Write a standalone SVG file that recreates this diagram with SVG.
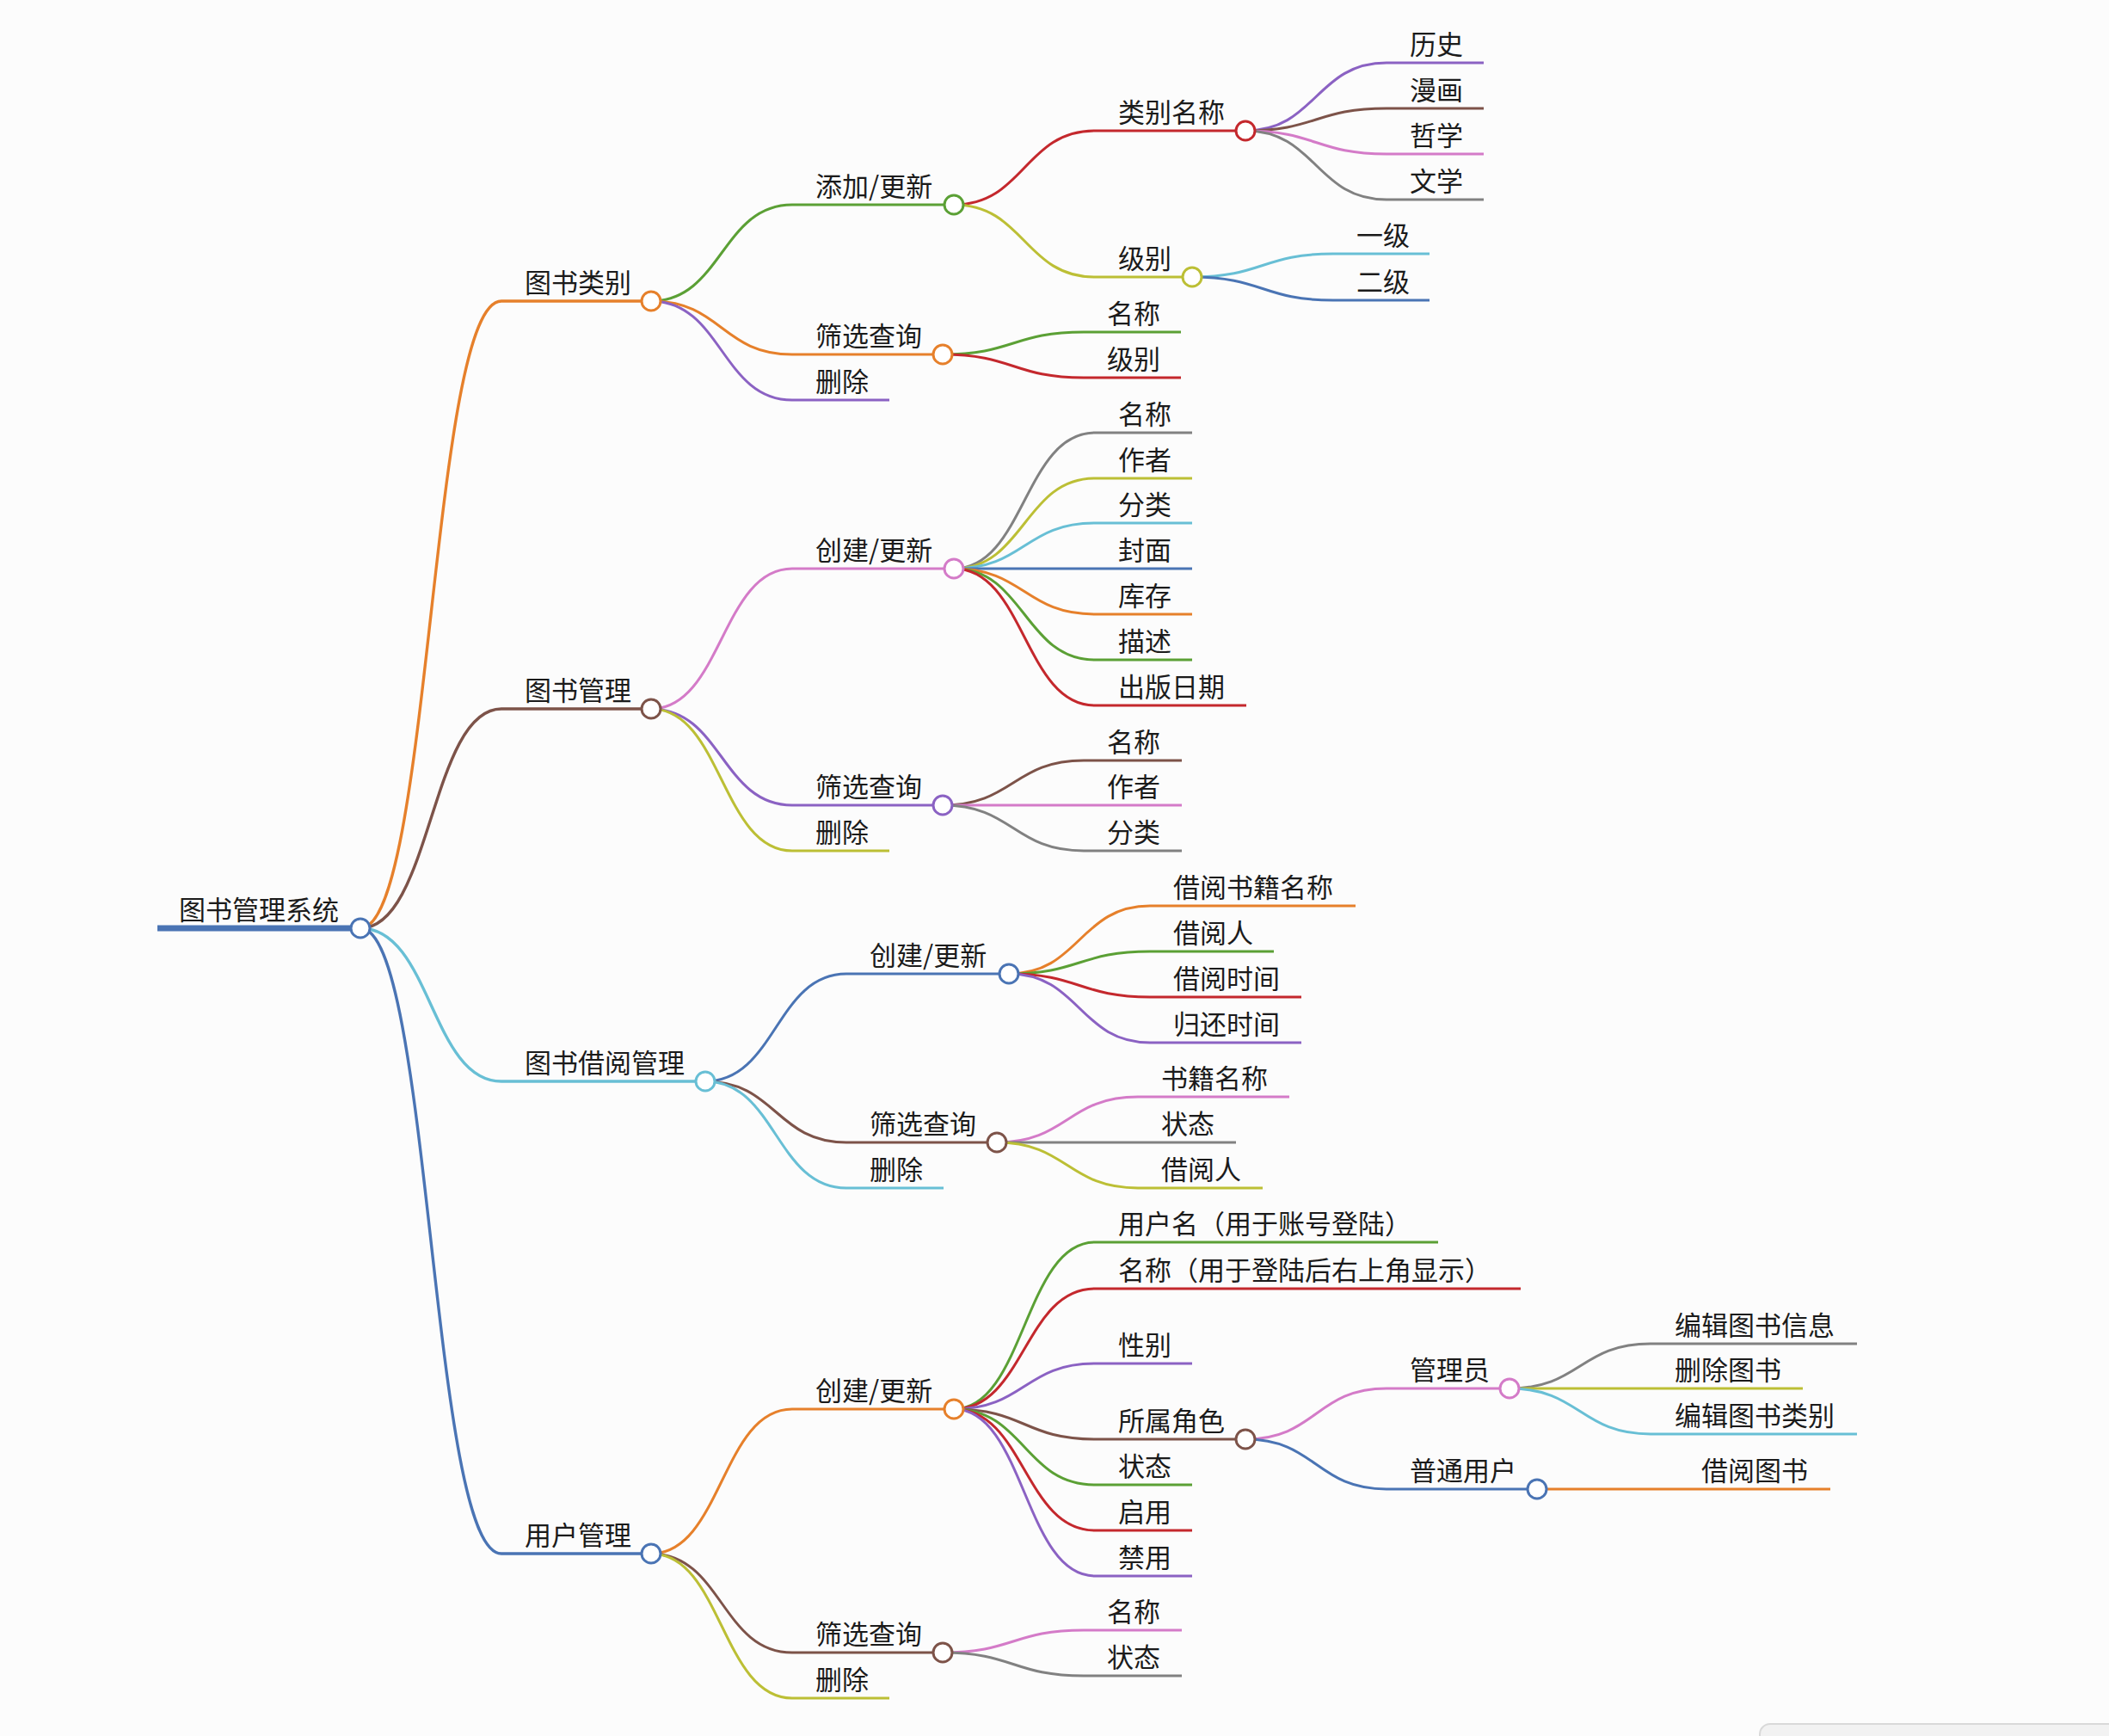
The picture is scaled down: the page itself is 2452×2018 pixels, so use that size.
<svg xmlns="http://www.w3.org/2000/svg" width="2452" height="2018" viewBox="0 0 2452 2018">
<style>
text{font-family:"Noto Sans CJK SC","Noto Sans",sans-serif;font-size:31px;fill:#1b1b1b}
path{fill:none;stroke-linecap:butt}
.ln{stroke-width:3}
.l1{stroke-width:3.4}
.rt{stroke-width:7}
circle{fill:#ffffff;stroke-width:3}
.blue{stroke:#4a74b4}
.orange{stroke:#e6802b}
.green{stroke:#5ba035}
.red{stroke:#c4282d}
.purple{stroke:#8b62c3}
.brown{stroke:#7d5349}
.pink{stroke:#d47bc8}
.gray{stroke:#818181}
.olive{stroke:#bcbf35}
.cyan{stroke:#68bfd5}
</style>
<rect x="0" y="0" width="2452" height="2018" fill="#fcfcfc"/>
<rect x="2046" y="2004" width="430" height="60" rx="12" fill="#f2f2f2" stroke="#d9d9d9" stroke-width="2"/>
<g id="connectors">
<path class="l1 orange" d="M419 1079C501 1079 501 350 583 350"/>
<path class="l1 brown" d="M419 1079C501 1079 501 824 583 824"/>
<path class="l1 cyan" d="M419 1079C501 1079 501 1257 583 1257"/>
<path class="l1 blue" d="M419 1079C501 1079 501 1806 583 1806"/>
<path class="ln green" d="M757 350C839 350 839 238 921 238"/>
<path class="ln orange" d="M757 350C839 350 839 412 921 412"/>
<path class="ln purple" d="M757 350C839 350 839 465 921 465"/>
<path class="ln pink" d="M757 824C839 824 839 661 921 661"/>
<path class="ln purple" d="M757 824C839 824 839 936 921 936"/>
<path class="ln olive" d="M757 824C839 824 839 989 921 989"/>
<path class="ln orange" d="M757 1806C839 1806 839 1638 921 1638"/>
<path class="ln brown" d="M757 1806C839 1806 839 1921 921 1921"/>
<path class="ln olive" d="M757 1806C839 1806 839 1974 921 1974"/>
<path class="ln blue" d="M820 1257C902 1257 902 1132 984 1132"/>
<path class="ln brown" d="M820 1257C902 1257 902 1328 984 1328"/>
<path class="ln cyan" d="M820 1257C902 1257 902 1381 984 1381"/>
<path class="ln red" d="M1109 238C1191 238 1191 152 1273 152"/>
<path class="ln olive" d="M1109 238C1191 238 1191 322 1273 322"/>
<path class="ln purple" d="M1448 152C1530 152 1530 73 1612 73"/>
<path class="ln brown" d="M1448 152C1530 152 1530 126 1612 126"/>
<path class="ln pink" d="M1448 152C1530 152 1530 179 1612 179"/>
<path class="ln gray" d="M1448 152C1530 152 1530 232 1612 232"/>
<path class="ln cyan" d="M1386 322C1468 322 1468 295 1550 295"/>
<path class="ln blue" d="M1386 322C1468 322 1468 349 1550 349"/>
<path class="ln green" d="M1096 412C1178 412 1178 386 1260 386"/>
<path class="ln red" d="M1096 412C1178 412 1178 439 1260 439"/>
<path class="ln gray" d="M1109 661C1191 661 1191 503 1273 503"/>
<path class="ln olive" d="M1109 661C1191 661 1191 556 1273 556"/>
<path class="ln cyan" d="M1109 661C1191 661 1191 608 1273 608"/>
<path class="ln blue" d="M1109 661C1191 661 1191 661 1273 661"/>
<path class="ln orange" d="M1109 661C1191 661 1191 714 1273 714"/>
<path class="ln green" d="M1109 661C1191 661 1191 767 1273 767"/>
<path class="ln red" d="M1109 661C1191 661 1191 820 1273 820"/>
<path class="ln brown" d="M1096 936C1178 936 1178 884 1260 884"/>
<path class="ln pink" d="M1096 936C1178 936 1178 936 1260 936"/>
<path class="ln gray" d="M1096 936C1178 936 1178 989 1260 989"/>
<path class="ln orange" d="M1173 1132C1255 1132 1255 1053 1337 1053"/>
<path class="ln green" d="M1173 1132C1255 1132 1255 1106 1337 1106"/>
<path class="ln red" d="M1173 1132C1255 1132 1255 1159 1337 1159"/>
<path class="ln purple" d="M1173 1132C1255 1132 1255 1212 1337 1212"/>
<path class="ln pink" d="M1159 1328C1241 1328 1241 1275 1323 1275"/>
<path class="ln gray" d="M1159 1328C1241 1328 1241 1328 1323 1328"/>
<path class="ln olive" d="M1159 1328C1241 1328 1241 1381 1323 1381"/>
<path class="ln green" d="M1109 1638C1191 1638 1191 1444 1273 1444"/>
<path class="ln red" d="M1109 1638C1191 1638 1191 1498 1273 1498"/>
<path class="ln purple" d="M1109 1638C1191 1638 1191 1585 1273 1585"/>
<path class="ln brown" d="M1109 1638C1191 1638 1191 1673 1273 1673"/>
<path class="ln green" d="M1109 1638C1191 1638 1191 1726 1273 1726"/>
<path class="ln red" d="M1109 1638C1191 1638 1191 1779 1273 1779"/>
<path class="ln purple" d="M1109 1638C1191 1638 1191 1832 1273 1832"/>
<path class="ln pink" d="M1448 1673C1530 1673 1530 1614 1612 1614"/>
<path class="ln blue" d="M1448 1673C1530 1673 1530 1731 1612 1731"/>
<path class="ln gray" d="M1755 1614C1837 1614 1837 1562 1919 1562"/>
<path class="ln olive" d="M1755 1614C1837 1614 1837 1614 1919 1614"/>
<path class="ln cyan" d="M1755 1614C1837 1614 1837 1667 1919 1667"/>
<path class="ln orange" d="M1787 1731C1869 1731 1869 1731 1951 1731"/>
<path class="ln pink" d="M1096 1921C1178 1921 1178 1895 1260 1895"/>
<path class="ln gray" d="M1096 1921C1178 1921 1178 1948 1260 1948"/>
</g>
<g id="nodes">
<g id="n-root"><path class="rt blue" d="M183 1079H419"/><circle class="blue" cx="419" cy="1079" r="11"/><text x="208" y="1069">图书管理系统</text></g>

<g id="n-a"><path class="l1 orange" d="M583 350H757"/><circle class="orange" cx="757" cy="350" r="11"/><text x="610" y="340">图书类别</text></g>
<g id="n-a1"><path class="ln green" d="M921 238H1109"/><circle class="green" cx="1109" cy="238" r="11"/><text x="948" y="228">添加/更新</text></g>
<g id="n-a1a"><path class="ln red" d="M1273 152H1448"/><circle class="red" cx="1448" cy="152" r="11"/><text x="1300" y="142">类别名称</text></g>
<g id="n-a1a1"><path class="ln purple" d="M1612 73H1725"/><text x="1639" y="63">历史</text></g>
<g id="n-a1a2"><path class="ln brown" d="M1612 126H1725"/><text x="1639" y="116">漫画</text></g>
<g id="n-a1a3"><path class="ln pink" d="M1612 179H1725"/><text x="1639" y="169">哲学</text></g>
<g id="n-a1a4"><path class="ln gray" d="M1612 232H1725"/><text x="1639" y="222">文学</text></g>
<g id="n-a1b"><path class="ln olive" d="M1273 322H1386"/><circle class="olive" cx="1386" cy="322" r="11"/><text x="1300" y="312">级别</text></g>
<g id="n-a1b1"><path class="ln cyan" d="M1550 295H1662"/><text x="1577" y="285">一级</text></g>
<g id="n-a1b2"><path class="ln blue" d="M1550 349H1662"/><text x="1577" y="339">二级</text></g>
<g id="n-a2"><path class="ln orange" d="M921 412H1096"/><circle class="orange" cx="1096" cy="412" r="11"/><text x="948" y="402">筛选查询</text></g>
<g id="n-a2a"><path class="ln green" d="M1260 386H1373"/><text x="1287" y="376">名称</text></g>
<g id="n-a2b"><path class="ln red" d="M1260 439H1373"/><text x="1287" y="429">级别</text></g>
<g id="n-a3"><path class="ln purple" d="M921 465H1034"/><text x="948" y="455">删除</text></g>

<g id="n-b"><path class="l1 brown" d="M583 824H757"/><circle class="brown" cx="757" cy="824" r="11"/><text x="610" y="814">图书管理</text></g>
<g id="n-b1"><path class="ln pink" d="M921 661H1109"/><circle class="pink" cx="1109" cy="661" r="11"/><text x="948" y="651">创建/更新</text></g>
<g id="n-b1a"><path class="ln gray" d="M1273 503H1386"/><text x="1300" y="493">名称</text></g>
<g id="n-b1b"><path class="ln olive" d="M1273 556H1386"/><text x="1300" y="546">作者</text></g>
<g id="n-b1c"><path class="ln cyan" d="M1273 608H1386"/><text x="1300" y="598">分类</text></g>
<g id="n-b1d"><path class="ln blue" d="M1273 661H1386"/><text x="1300" y="651">封面</text></g>
<g id="n-b1e"><path class="ln orange" d="M1273 714H1386"/><text x="1300" y="704">库存</text></g>
<g id="n-b1f"><path class="ln green" d="M1273 767H1386"/><text x="1300" y="757">描述</text></g>
<g id="n-b1g"><path class="ln red" d="M1273 820H1449"/><text x="1300" y="810">出版日期</text></g>
<g id="n-b2"><path class="ln purple" d="M921 936H1096"/><circle class="purple" cx="1096" cy="936" r="11"/><text x="948" y="926">筛选查询</text></g>
<g id="n-b2a"><path class="ln brown" d="M1260 884H1374"/><text x="1287" y="874">名称</text></g>
<g id="n-b2b"><path class="ln pink" d="M1260 936H1374"/><text x="1287" y="926">作者</text></g>
<g id="n-b2c"><path class="ln gray" d="M1260 989H1374"/><text x="1287" y="979">分类</text></g>
<g id="n-b3"><path class="ln olive" d="M921 989H1034"/><text x="948" y="979">删除</text></g>

<g id="n-c"><path class="l1 cyan" d="M583 1257H820"/><circle class="cyan" cx="820" cy="1257" r="11"/><text x="610" y="1247">图书借阅管理</text></g>
<g id="n-c1"><path class="ln blue" d="M984 1132H1173"/><circle class="blue" cx="1173" cy="1132" r="11"/><text x="1011" y="1122">创建/更新</text></g>
<g id="n-c1a"><path class="ln orange" d="M1337 1053H1576"/><text x="1364" y="1043">借阅书籍名称</text></g>
<g id="n-c1b"><path class="ln green" d="M1337 1106H1481"/><text x="1364" y="1096">借阅人</text></g>
<g id="n-c1c"><path class="ln red" d="M1337 1159H1513"/><text x="1364" y="1149">借阅时间</text></g>
<g id="n-c1d"><path class="ln purple" d="M1337 1212H1513"/><text x="1364" y="1202">归还时间</text></g>
<g id="n-c2"><path class="ln brown" d="M984 1328H1159"/><circle class="brown" cx="1159" cy="1328" r="11"/><text x="1011" y="1318">筛选查询</text></g>
<g id="n-c2a"><path class="ln pink" d="M1323 1275H1499"/><text x="1350" y="1265">书籍名称</text></g>
<g id="n-c2b"><path class="ln gray" d="M1323 1328H1437"/><text x="1350" y="1318">状态</text></g>
<g id="n-c2c"><path class="ln olive" d="M1323 1381H1468"/><text x="1350" y="1371">借阅人</text></g>
<g id="n-c3"><path class="ln cyan" d="M984 1381H1097"/><text x="1011" y="1371">删除</text></g>

<g id="n-d"><path class="l1 blue" d="M583 1806H757"/><circle class="blue" cx="757" cy="1806" r="11"/><text x="610" y="1796">用户管理</text></g>
<g id="n-d1"><path class="ln orange" d="M921 1638H1109"/><circle class="orange" cx="1109" cy="1638" r="11"/><text x="948" y="1628">创建/更新</text></g>
<g id="n-d1a"><path class="ln green" d="M1273 1444H1672"/><text x="1300" y="1434">用户名（用于账号登陆）</text></g>
<g id="n-d1b"><path class="ln red" d="M1273 1498H1768"/><text x="1300" y="1488">名称（用于登陆后右上角显示）</text></g>
<g id="n-d1c"><path class="ln purple" d="M1273 1585H1386"/><text x="1300" y="1575">性别</text></g>
<g id="n-d1d"><path class="ln brown" d="M1273 1673H1448"/><circle class="brown" cx="1448" cy="1673" r="11"/><text x="1300" y="1663">所属角色</text></g>
<g id="n-d1d1"><path class="ln pink" d="M1612 1614H1755"/><circle class="pink" cx="1755" cy="1614" r="11"/><text x="1639" y="1604">管理员</text></g>
<g id="n-d1d1a"><path class="ln gray" d="M1919 1562H2159"/><text x="1947" y="1552">编辑图书信息</text></g>
<g id="n-d1d1b"><path class="ln olive" d="M1919 1614H2096"/><text x="1947" y="1604">删除图书</text></g>
<g id="n-d1d1c"><path class="ln cyan" d="M1919 1667H2159"/><text x="1947" y="1657">编辑图书类别</text></g>
<g id="n-d1d2"><path class="ln blue" d="M1612 1731H1787"/><circle class="blue" cx="1787" cy="1731" r="11"/><text x="1639" y="1721">普通用户</text></g>
<g id="n-d1d2a"><path class="ln orange" d="M1951 1731H2128"/><text x="1978" y="1721">借阅图书</text></g>
<g id="n-d1e"><path class="ln green" d="M1273 1726H1386"/><text x="1300" y="1716">状态</text></g>
<g id="n-d1f"><path class="ln red" d="M1273 1779H1386"/><text x="1300" y="1769">启用</text></g>
<g id="n-d1g"><path class="ln purple" d="M1273 1832H1386"/><text x="1300" y="1822">禁用</text></g>
<g id="n-d2"><path class="ln brown" d="M921 1921H1096"/><circle class="brown" cx="1096" cy="1921" r="11"/><text x="948" y="1911">筛选查询</text></g>
<g id="n-d2a"><path class="ln pink" d="M1260 1895H1374"/><text x="1287" y="1885">名称</text></g>
<g id="n-d2b"><path class="ln gray" d="M1260 1948H1374"/><text x="1287" y="1938">状态</text></g>
<g id="n-d3"><path class="ln olive" d="M921 1974H1034"/><text x="948" y="1964">删除</text></g>
</g>
</svg>
